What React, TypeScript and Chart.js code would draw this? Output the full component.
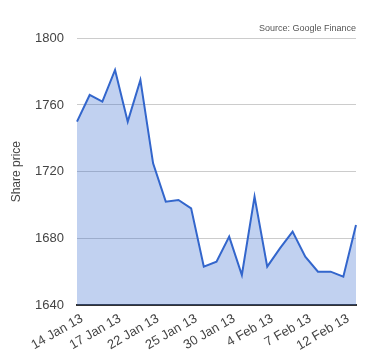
import React, { useEffect, useRef } from 'react';
import { Chart, registerables } from 'chart.js';

Chart.register(...registerables);

const dates = [
  '14 Jan 13', '15 Jan 13', '16 Jan 13', '17 Jan 13', '18 Jan 13', '21 Jan 13',
  '22 Jan 13', '23 Jan 13', '24 Jan 13', '25 Jan 13', '28 Jan 13', '29 Jan 13',
  '30 Jan 13', '31 Jan 13', '1 Feb 13', '4 Feb 13', '5 Feb 13', '6 Feb 13',
  '7 Feb 13', '8 Feb 13', '11 Feb 13', '12 Feb 13', '13 Feb 13',
];

const prices = [
  1750, 1766, 1762, 1781, 1750, 1775,
  1725, 1702, 1703, 1698, 1663, 1666,
  1681, 1658, 1705, 1663, 1674, 1684,
  1669, 1660, 1660, 1657, 1688,
];

const yMin = 1640;
const yMax = 1800;
const yStep = 40;
const labelEvery = 3;

const seriesName = 'Share price';
const sourceNote = 'Source: Google Finance';

const FONT = 'Arial, "Liberation Sans", sans-serif';

export default function App() {
  const ref = useRef<HTMLCanvasElement | null>(null);

  useEffect(() => {
    if (!ref.current) return;
    const chart = new Chart(ref.current, {
      type: 'line',
      data: {
        labels: dates,
        datasets: [
          {
            label: seriesName,
            data: prices,
            borderColor: '#3366cc',
            backgroundColor: 'rgba(51,102,204,0.3)',
            borderWidth: 2,
            fill: 'start',
            tension: 0,
            pointRadius: 0,
            pointHoverRadius: 0,
          },
        ],
      },
      options: {
        animation: false,
        responsive: true,
        maintainAspectRatio: false,
        layout: { padding: { left: 0, right: 24, top: 0, bottom: 0 } },
        plugins: {
          legend: { display: false },
          tooltip: { enabled: false },
          title: {
            display: true,
            text: sourceNote,
            align: 'end',
            color: '#555',
            font: { family: FONT, size: 9, weight: 'normal' },
            padding: { top: 23.5, bottom: 4 },
          },
        },
        scales: {
          x: {
            grid: { display: false, drawTicks: false },
            border: { display: true, color: '#333', width: 2 },
            ticks: {
              autoSkip: false,
              minRotation: 30,
              maxRotation: 30,
              color: '#444',
              font: { family: FONT, size: 13 },
              padding: 6,
              labelOffset: 5,
              callback: (_v: any, i: number) => (i % labelEvery === 0 ? dates[i] : ''),
            },
            afterFit: (s: any) => {
              s.height = 55;
            },
          },
          y: {
            min: yMin,
            max: yMax,
            grid: { color: '#cccccc', drawTicks: false },
            border: { display: false },
            ticks: {
              stepSize: yStep,
              color: '#444',
              font: { family: FONT, size: 13 },
              padding: 13,
              callback: (v: any) => String(v),
            },
            title: {
              display: true,
              text: seriesName,
              color: '#444',
              font: { family: FONT, size: 12 },
              padding: { top: 9, bottom: 0 },
            },
            afterFit: (s: any) => {
              s.width = 77;
            },
          },
        },
      },
    });
    return () => chart.destroy();
  }, []);

  return (
    <div style={{ position: 'fixed', left: 0, top: 0, width: 380, height: 360 }}>
      <canvas ref={ref} />
    </div>
  );
}
